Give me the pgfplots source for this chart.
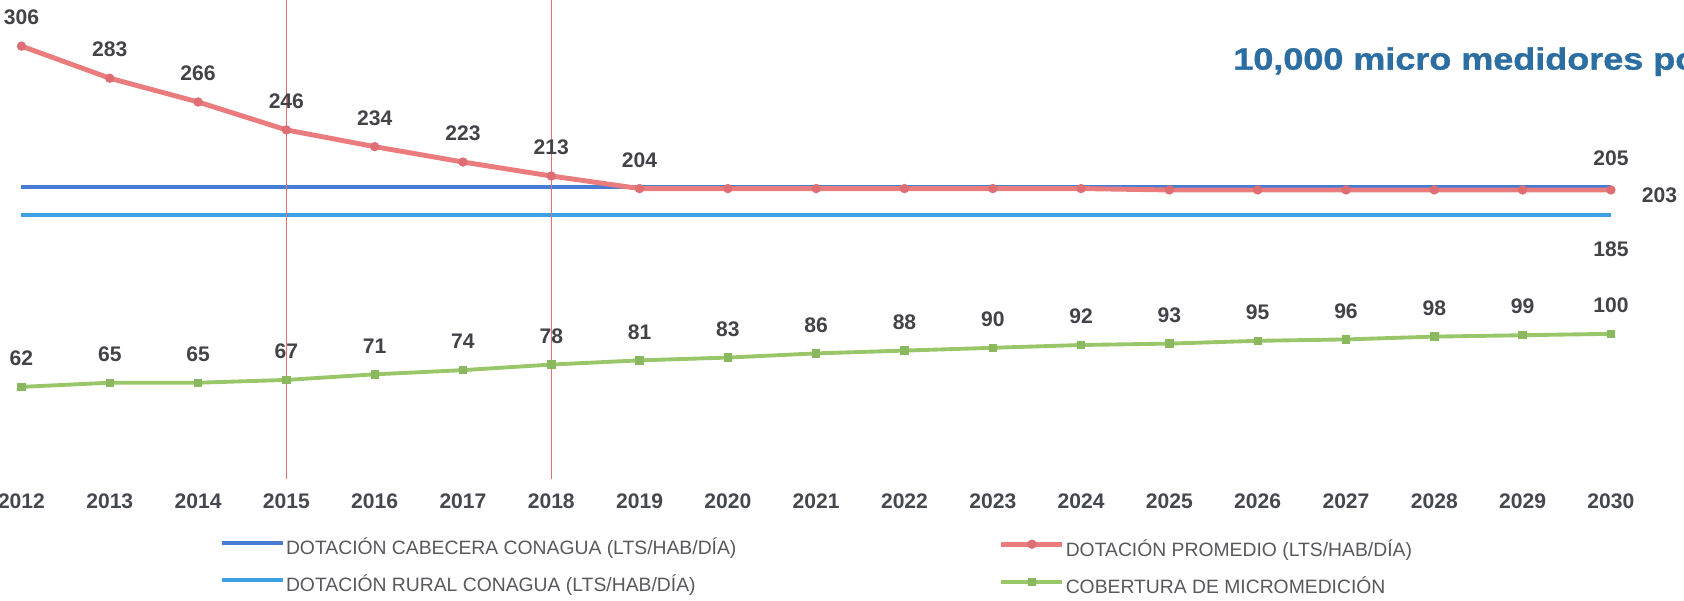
\documentclass[border=0pt]{standalone}
\usepackage{pgfplots}
\usepackage{pgfplotstable}
\pgfplotsset{compat=1.18}
\usepackage{fontspec}
\setmainfont{Liberation Sans}
\newfontfamily\titfont[FakeStretch=1.17, FakeBold=1.2]{Liberation Sans}
\definecolor{rojo}{RGB}{234,124,126}
\definecolor{rojom}{RGB}{222,110,116}
\definecolor{azul1}{RGB}{72,124,212}
\definecolor{azul2}{RGB}{60,160,228}
\definecolor{verde}{RGB}{154,198,106}
\definecolor{verdem}{RGB}{138,184,94}
\definecolor{lab}{RGB}{66,66,72}
\definecolor{tickc}{RGB}{70,72,80}
\definecolor{legc}{RGB}{88,88,92}
\definecolor{tit}{RGB}{44,110,162}
\definecolor{vline}{RGB}{232,112,112}

\pgfplotstableread{
x y l
2012 306 306
2013 283 283
2014 266 266
2015 246 246
2016 234 234
2017 223 223
2018 213 213
2019 204 204
2020 204 {}
2021 204 {}
2022 204 {}
2023 204 {}
2024 204 {}
2025 203 {}
2026 203 {}
2027 203 {}
2028 203 {}
2029 203 {}
2030 203 {}
}\promedio

\pgfplotstableread{
x y l
2012 62 62
2013 65 65
2014 65 65
2015 67 67
2016 71 71
2017 74 74
2018 78 78
2019 81 81
2020 83 83
2021 86 86
2022 88 88
2023 90 90
2024 92 92
2025 93 93
2026 95 95
2027 96 96
2028 98 98
2029 99 99
2030 100 100
}\cobertura

\pgfplotstableread{
x y
2012 205
2013 205
2014 205
2015 205
2016 205
2017 205
2018 205
2019 205
2020 205
2021 205
2022 205
2023 205
2024 205
2025 205
2026 205
2027 205
2028 205
2029 205
2030 205
}\cabecera

\pgfplotstableread{
x y
2012 185
2013 185
2014 185
2015 185
2016 185
2017 185
2018 185
2019 185
2020 185
2021 185
2022 185
2023 185
2024 185
2025 185
2026 185
2027 185
2028 185
2029 185
2030 185
}\rural

\pgfplotsset{
  base/.style={
    at={(0,0)}, anchor=south west,
    scale only axis, width=33.68cm, height=9.47cm,
    xmin=2011.757, xmax=2030.828, ymin=0, ymax=339,
    clip=false,
    legend image code/.code={\draw[mark repeat=2, mark phase=2, ##1] plot coordinates {(0cm,0.139cm) (0.61cm,0.139cm) (1.22cm,0.139cm)};},
    legend cell align=left,
  },
  legst/.style={legend style={at={(#1,-0.1404)}, anchor=north west, draw=none, fill=none,
    inner sep=0pt, outer sep=0pt, row sep=3.4mm,
    font=\fontsize{11}{13}\selectfont, text=legc,
    nodes={inner sep=0.5pt, text height=2.8mm, text depth=0.8mm}}},
  vals/.style={nodes near coords, point meta=explicit symbolic,
    nodes near coords style={font=\fontsize{12}{14}\selectfont\bfseries, text=lab, anchor=center, yshift=0.57cm}},
}

\begin{document}
\begin{tikzpicture}
\useasboundingbox (0,-2.53) rectangle (33.68,9.47);
\clip (0,-2.53) rectangle (33.68,9.47);
\begin{axis}[base, legst=0.1306,
  axis line style={draw=none}, major tick length=0pt,
  ytick=\empty,
  xtick={2012,2013,2014,2015,2016,2017,2018,2019,2020,2021,2022,2023,2024,2025,2026,2027,2028,2029,2030},
  xticklabels={2012,2013,2014,2015,2016,2017,2018,2019,2020,2021,2022,2023,2024,2025,2026,2027,2028,2029,2030},
  xticklabel style={font=\fontsize{12}{14}\selectfont\bfseries, text=tickc, anchor=center, yshift=-0.55cm},
  /pgf/number format/assume math mode=true,
]
\addplot[azul1, line width=2.4pt] table[x=x,y=y] {\cabecera};
\addlegendentry{DOTACIÓN CABECERA CONAGUA (LTS/HAB/DÍA)}
\addplot[azul2, line width=2.4pt] table[x=x,y=y] {\rural};
\addlegendentry{DOTACIÓN RURAL CONAGUA (LTS/HAB/DÍA)}

\addplot[rojo, line width=2.8pt, mark=*, mark size=2.4pt, mark options={fill=rojom, draw=rojom, line width=0.5pt}, forget plot] table[x=x,y=y] {\promedio};
\addplot[draw=none, vals, forget plot] table[x=x,y=y,meta=l] {\promedio};

\addplot[verde, line width=2.2pt, mark=square*, mark size=2.1pt, mark options={fill=verdem, draw=verdem, line width=0.5pt}, forget plot] table[x=x,y=y] {\cobertura};
\addplot[draw=none, vals, forget plot] table[x=x,y=y,meta=l] {\cobertura};

% end labels
\addplot[draw=none, forget plot, nodes near coords, point meta=explicit symbolic,
  nodes near coords style={font=\fontsize{12}{14}\selectfont\bfseries, text=lab, anchor=center, yshift=0.58cm}]
  coordinates {(2030,205) [205]};
\addplot[draw=none, forget plot, nodes near coords, point meta=explicit symbolic,
  nodes near coords style={font=\fontsize{12}{14}\selectfont\bfseries, text=lab, anchor=center, yshift=-0.69cm}]
  coordinates {(2030,185) [185]};
\addplot[draw=none, forget plot, nodes near coords, point meta=explicit symbolic,
  nodes near coords style={font=\fontsize{12}{14}\selectfont\bfseries, text=lab, anchor=center, xshift=0.97cm, yshift=-0.1cm}]
  coordinates {(2030,203) [203]};

% vertical reference lines
\addplot[vline, line width=0.6pt, forget plot] coordinates {(2015,-4) (2015,339)};
\addplot[vline, line width=0.6pt, forget plot] coordinates {(2018,-4) (2018,339)};
\end{axis}

\begin{axis}[base, legst=0.5932, hide axis]
\addlegendimage{rojo, line width=2.8pt, mark=*, mark size=2.4pt, mark options={fill=rojom, draw=rojom, line width=0.5pt}}
\addlegendentry{DOTACIÓN PROMEDIO (LTS/HAB/DÍA)}
\addlegendimage{verde, line width=2.2pt, mark=square*, mark size=2.1pt, mark options={fill=verdem, draw=verdem, line width=0.5pt}}
\addlegendentry{COBERTURA DE MICROMEDICIÓN}
\end{axis}

\node[anchor=west, inner sep=0pt, text=tit, font=\titfont\fontsize{17.5}{20}\selectfont\bfseries] at (24.66cm,8.236cm) {10,000 micro medidores por};
\end{tikzpicture}
\end{document}
